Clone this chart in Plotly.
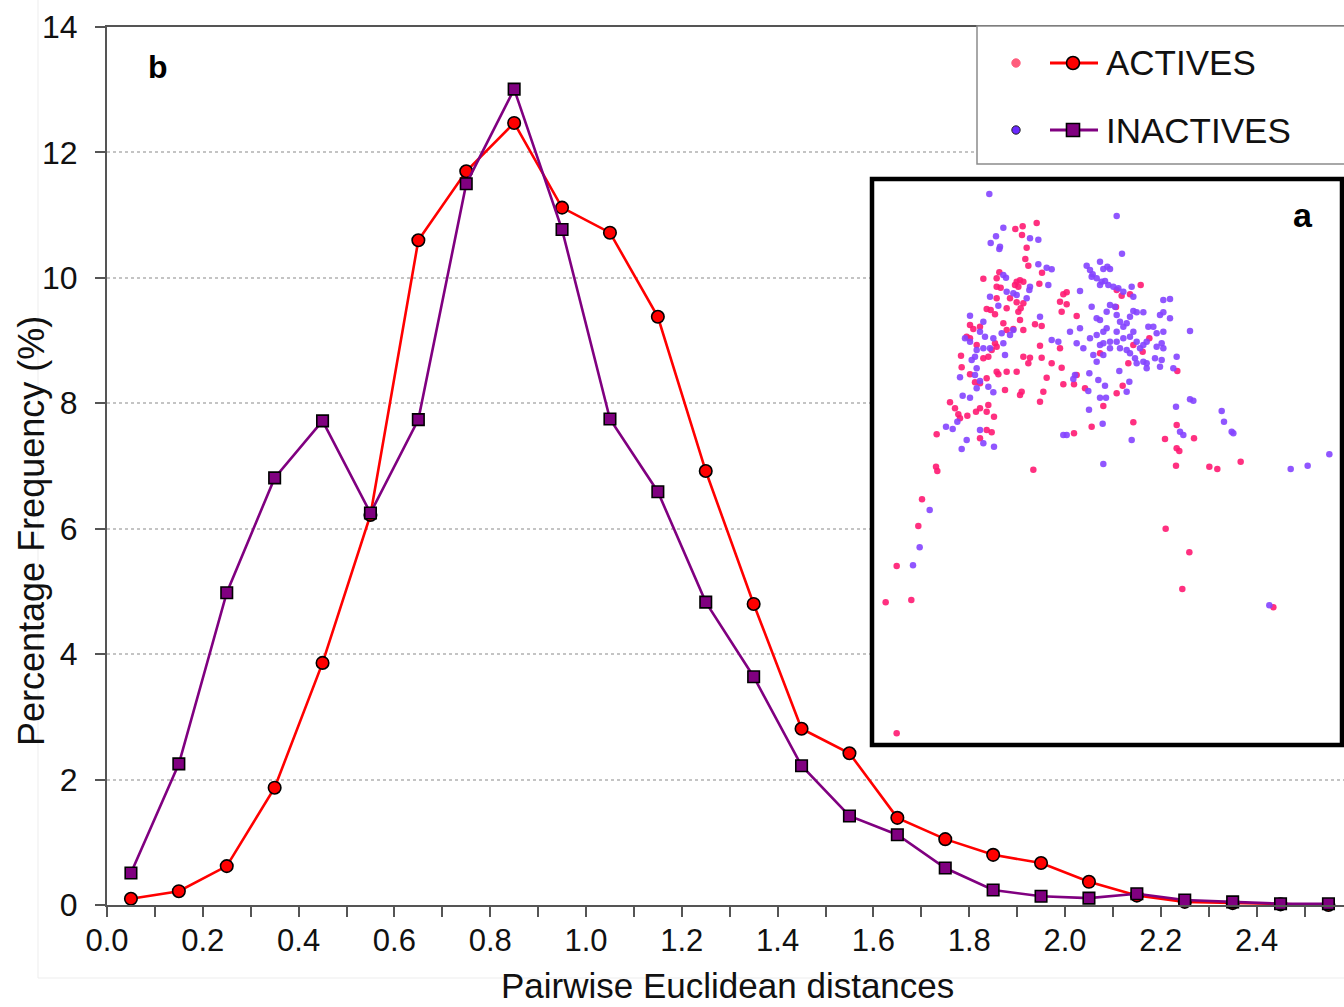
import plotly.graph_objects as go

# ---------------- main panel (b): distance distributions ----------------
distance_bins = [0.05, 0.15, 0.25, 0.35, 0.45, 0.55, 0.65, 0.75, 0.85, 0.95,
                 1.05, 1.15, 1.25, 1.35, 1.45, 1.55, 1.65, 1.75, 1.85, 1.95,
                 2.05, 2.15, 2.25, 2.35, 2.45, 2.55]
actives_pct = [0.10, 0.22, 0.62, 1.87, 3.86, 6.22, 10.60, 11.70, 12.47, 11.12,
               10.72, 9.38, 6.92, 4.80, 2.81, 2.42, 1.39, 1.05, 0.80, 0.67,
               0.37, 0.15, 0.05, 0.03, 0.01, 0.00]
inactives_pct = [0.51, 2.25, 4.98, 6.81, 7.72, 6.25, 7.74, 11.50, 13.01, 10.77,
                 7.75, 6.59, 4.83, 3.64, 2.22, 1.42, 1.12, 0.59, 0.24, 0.14,
                 0.11, 0.18, 0.08, 0.05, 0.02, 0.02]

y_ticks = [0, 2, 4, 6, 8, 10, 12, 14]
x_tick_labels = ["0.0", "0.2", "0.4", "0.6", "0.8", "1.0", "1.2",
                 "1.4", "1.6", "1.8", "2.0", "2.2", "2.4"]
x_tick_vals = [0.0, 0.2, 0.4, 0.6, 0.8, 1.0, 1.2, 1.4, 1.6, 1.8, 2.0, 2.2, 2.4]

# ---------------- inset panel (a): chemical-space projection ----------------
actives_pc1 = [5.00, 4.58, 4.36, 4.56, 4.70, 4.66, 4.75, 5.16, 5.08, 3.40,
               3.88, 3.80, 3.80, 3.92, 4.40, 4.50, 4.60, 4.35, 4.45, 4.20,
               4.40, 4.60, 4.45, 4.52, 3.80, 3.50, 3.62, 3.75, 4.10, 4.00,
               4.10, 4.30, 4.50, 4.60, 4.95, 5.15, 5.70, 5.90, 5.80, 5.90,
               5.75, 6.20, 3.00, 3.10, 3.30, 2.90, 3.00, 3.20, 3.40, 3.55,
               3.75, 3.80, 3.65, 2.73, 2.75, 3.00, 3.15, 3.30, 3.50, 3.80,
               3.85, 4.10, 4.40, 4.60, 4.80, 4.75, 5.10, 5.15, 5.45, 5.70,
               5.75, 5.30, 5.20, 5.10, 4.05, 4.55, 4.50, 2.40, 2.55, 2.65,
               2.70, 2.92, 3.18, 3.30, 3.55, 3.50, 3.72, 5.80, 6.12, 6.20,
               6.45, 7.00, 7.40, 7.55, 7.80, 8.12, 7.38, 7.40, 7.58, 6.90,
               7.90, 8.38, 7.75, 8.18, 9.22, 2.00, 3.30, 3.50, 3.65, 6.12,
               6.65, 7.90, 9.20, 8.85, 9.20, 9.28, 9.72, 1.98, 2.02, 4.90,
               9.18, 10.18, 10.42, 11.12, 1.56, 1.45, 0.80, 0.47, 1.24, 0.80,
               8.87, 9.58, 9.37, 12.10]
actives_pc2 = [15.66, 15.56, 15.48, 15.30, 14.92, 14.58, 14.38, 14.17, 13.84, 13.99,
               14.18, 14.00, 13.75, 13.72, 13.90, 13.94, 13.90, 13.80, 13.75, 13.40,
               13.28, 13.25, 13.00, 13.10, 13.40, 13.08, 13.05, 12.92, 13.10, 12.65,
               12.45, 12.48, 12.75, 12.45, 12.62, 12.57, 13.30, 13.22, 13.52, 13.58,
               13.00, 12.87, 12.60, 12.48, 12.55, 12.25, 12.20, 12.00, 11.60, 11.65,
               12.05, 11.95, 11.85, 11.68, 11.33, 11.12, 10.88, 10.85, 11.00, 11.20,
               11.12, 11.20, 11.20, 11.65, 11.62, 11.45, 11.98, 11.62, 11.45, 11.90,
               11.32, 11.02, 10.60, 10.30, 10.65, 10.60, 10.50, 10.28, 10.10, 9.92,
               9.80, 9.88, 10.00, 10.10, 10.20, 10.00, 9.85, 10.82, 10.82, 11.10,
               10.70, 10.17, 13.65, 13.48, 13.52, 13.80, 13.14, 10.55, 10.78, 11.75,
               12.00, 12.20, 11.45, 11.80, 11.22, 9.32, 9.20, 9.45, 9.38, 9.35,
               9.55, 9.68, 9.60, 9.18, 8.90, 8.82, 9.20, 8.35, 8.22, 8.26,
               8.38, 8.35, 8.28, 8.50, 7.37, 6.57, 5.37, 4.28, 4.35, 0.35,
               6.49, 5.78, 4.68, 4.13]

inactives_pc1 = [3.58, 7.40, 7.56, 4.00, 3.78, 3.62, 3.90, 3.88, 4.80, 5.05,
                 5.05, 5.30, 5.45, 4.00, 4.08, 4.10, 4.30, 4.80, 4.78, 5.35,
                 3.60, 3.85, 4.40, 4.70, 6.30, 6.50, 6.60, 6.68, 6.90, 7.00,
                 7.12, 7.20, 6.65, 6.80, 6.95, 7.05, 7.15, 7.30, 7.45, 6.90,
                 7.60, 7.85, 7.90, 3.00, 3.40, 2.85, 3.00, 3.30, 3.45, 3.70,
                 3.60, 3.40, 3.20, 3.15, 3.05, 4.00, 4.05, 4.20, 4.30, 3.95,
                 2.70, 3.20, 3.15, 3.30, 3.20, 3.55, 3.70, 2.78, 3.00, 5.10,
                 5.45, 5.65, 6.00, 6.30, 6.20, 6.40, 6.65, 6.80, 6.90, 7.10,
                 7.20, 7.35, 7.40, 7.50, 7.60, 7.70, 7.80, 7.90, 8.00, 8.20,
                 6.60, 6.80, 7.00, 7.10, 7.20, 7.40, 7.50, 7.60, 7.80, 7.90,
                 8.00, 8.10, 8.20, 8.30, 7.00, 7.20, 6.90, 6.70, 6.80, 7.00,
                 7.40, 7.70, 7.80, 7.95, 8.00, 8.20, 8.30, 8.35, 8.50, 8.60,
                 8.80, 8.60, 8.75, 8.80, 8.55, 8.75, 8.70, 8.30, 8.80, 9.00,
                 8.70, 8.80, 9.00, 9.60, 9.20, 9.10, 7.48, 7.78, 7.70, 6.15,
                 6.10, 6.58, 6.85, 7.05, 6.55, 6.90, 7.08, 6.57, 6.98, 9.60,
                 9.70, 9.18, 10.55, 10.62, 10.85, 10.90, 9.30, 9.40, 5.80, 5.90,
                 7.85, 2.28, 2.48, 2.62, 2.90, 2.75, 3.30, 3.40, 3.72, 7.00,
                 12.62, 13.13, 13.78, 1.79, 1.49, 1.29, 11.98]
inactives_pc2 = [16.53, 15.87, 14.74, 15.52, 15.26, 15.06, 14.95, 14.88, 15.20, 15.16,
                 14.42, 14.32, 14.27, 14.10, 14.02, 13.60, 13.55, 13.75, 13.65, 13.80,
                 13.45, 13.18, 13.50, 13.40, 13.62, 14.38, 14.25, 14.12, 14.50, 14.28,
                 14.35, 14.28, 14.05, 14.00, 13.90, 13.92, 13.80, 13.75, 13.70, 13.80,
                 13.60, 13.75, 13.45, 12.88, 12.70, 12.20, 12.10, 12.40, 12.25, 12.20,
                 11.90, 11.90, 11.85, 11.65, 11.55, 12.05, 11.70, 12.30, 12.45, 12.35,
                 11.03, 11.30, 11.10, 10.92, 10.70, 10.75, 10.58, 10.48, 10.42, 12.85,
                 12.15, 12.10, 12.40, 12.50, 12.05, 11.90, 13.15, 12.80, 12.75, 13.00,
                 13.20, 13.15, 12.90, 12.70, 12.55, 12.65, 12.85, 13.02, 12.98, 12.98,
                 12.20, 12.30, 12.40, 12.50, 12.10, 12.40, 11.90, 12.20, 12.25, 12.40,
                 12.10, 11.90, 12.00, 12.10, 12.05, 11.90, 12.00, 11.70, 11.50, 11.70,
                 12.10, 11.85, 11.75, 11.60, 11.45, 11.50, 11.45, 12.55, 12.55, 12.35,
                 12.40, 11.95, 12.05, 11.90, 11.60, 11.55, 11.35, 11.30, 13.35, 13.38,
                 12.90, 12.98, 12.80, 12.42, 11.65, 11.30, 11.22, 10.90, 10.60, 11.10,
                 10.98, 11.15, 10.95, 10.78, 10.62, 10.42, 10.42, 10.06, 9.64, 10.37,
                 10.33, 10.15, 10.02, 9.70, 9.40, 9.35, 9.40, 9.30, 9.30, 9.30,
                 9.15, 9.55, 9.48, 9.70, 9.15, 8.88, 9.45, 9.05, 8.95, 8.43,
                 8.28, 8.38, 8.72, 7.05, 5.93, 5.39, 4.19]

# ---------------- layout geometry (pixels) ----------------
W, H = 1344, 1007
ML, MR, MT, MB = 107, 0, 27, 102


def px(x):
    return (x - ML) / (W - ML - MR)


def py(y):
    return (H - MB - y) / (H - MT - MB)


FONT = "Liberation Sans, Arial, sans-serif"
RED = "#ff0000"
PURPLE = "#800080"
PINK_DOT = "#ff1a72"
VIOLET_DOT = "#8444ff"

fig = go.Figure()

fig.add_trace(go.Scatter(
    x=distance_bins, y=actives_pct, mode="lines+markers", name="ACTIVES",
    line=dict(color=RED, width=2.6),
    marker=dict(symbol="circle", size=12.5, color=RED,
                line=dict(color="#000000", width=1.6)),
    cliponaxis=False, showlegend=False,
))
fig.add_trace(go.Scatter(
    x=distance_bins, y=inactives_pct, mode="lines+markers", name="INACTIVES",
    line=dict(color=PURPLE, width=2.6),
    marker=dict(symbol="square", size=11.5, color=PURPLE,
                line=dict(color="#000000", width=1.6)),
    cliponaxis=False, showlegend=False,
))

# inset scatter
fig.add_trace(go.Scatter(
    x=actives_pc1, y=actives_pc2, mode="markers", xaxis="x2", yaxis="y2",
    marker=dict(size=6.5, color=PINK_DOT, opacity=0.9), showlegend=False,
))
fig.add_trace(go.Scatter(
    x=inactives_pc1, y=inactives_pc2, mode="markers", xaxis="x2", yaxis="y2",
    marker=dict(size=6.5, color=VIOLET_DOT, opacity=0.9), showlegend=False,
))

shapes = []
# faint chart-area outline
shapes.append(dict(type="line", xref="paper", yref="paper",
                   x0=px(38), x1=px(38), y0=py(0), y1=py(978),
                   line=dict(color="#ededed", width=1), layer="below"))
shapes.append(dict(type="line", xref="paper", yref="paper",
                   x0=px(38), x1=px(1344), y0=py(978), y1=py(978),
                   line=dict(color="#ededed", width=1), layer="below"))
# white background for the inset (hides main gridlines)
shapes.append(dict(type="rect", xref="x2", yref="y2",
                   x0=0.06, x1=14.16, y0=0, y1=16.98,
                   fillcolor="#ffffff", line=dict(width=0), layer="between"))
# inset frame
shapes.append(dict(type="rect", xref="paper", yref="paper",
                   x0=px(872), x1=px(1342), y0=py(745), y1=py(179),
                   line=dict(color="#000000", width=4.5), layer="above"))
# legend box
shapes.append(dict(type="rect", xref="paper", yref="paper",
                   x0=px(977), x1=px(1360), y0=py(164), y1=py(26),
                   fillcolor="#ffffff", line=dict(color="#8c8c8c", width=1.5),
                   layer="above"))

legend_rows = [
    ("ACTIVES", 63, "#ff5c7c", RED, "circle"),
    ("INACTIVES", 130, "#6a28ff", PURPLE, "square"),
]
annotations = []
for label, yrow, dot_col, col, sym in legend_rows:
    # scatter dot sample
    r = 4.2
    shapes.append(dict(type="circle", xref="paper", yref="paper",
                       x0=px(1016 - r), x1=px(1016 + r),
                       y0=py(yrow + r), y1=py(yrow - r),
                       fillcolor=dot_col,
                       line=dict(color="#222222" if sym == "square" else dot_col,
                                 width=1),
                       layer="above"))
    # line sample
    shapes.append(dict(type="line", xref="paper", yref="paper",
                       x0=px(1050), x1=px(1098), y0=py(yrow), y1=py(yrow),
                       line=dict(color=col, width=3), layer="above"))
    m = 6.5
    shapes.append(dict(type="circle" if sym == "circle" else "rect",
                       xref="paper", yref="paper",
                       x0=px(1073 - m), x1=px(1073 + m),
                       y0=py(yrow + m), y1=py(yrow - m),
                       fillcolor=col, line=dict(color="#000000", width=1.6),
                       layer="above"))
    annotations.append(dict(text=label, xref="paper", yref="paper",
                            x=px(1104), y=py(yrow), xanchor="left",
                            yanchor="middle", showarrow=False,
                            font=dict(family=FONT, size=35, color="#111111")))

annotations += [
    dict(text="<b>b</b>", xref="paper", yref="paper", x=px(158), y=py(67),
         xanchor="center", yanchor="middle", showarrow=False,
         font=dict(family=FONT, size=32, color="#000000")),
    dict(text="<b>a</b>", xref="paper", yref="paper", x=px(1303), y=py(215),
         xanchor="center", yanchor="middle", showarrow=False,
         font=dict(family=FONT, size=34, color="#000000")),
    dict(text="Pairwise Euclidean distances", xref="paper", yref="paper",
         x=px(728), y=py(1006), xanchor="center", yanchor="bottom",
         showarrow=False, borderpad=0,
         font=dict(family=FONT, size=35, color="#111111")),
    dict(text="Percentage Frequency (%)", xref="paper", yref="paper",
         x=px(31), y=py(531), xanchor="center", yanchor="middle",
         textangle=-90, showarrow=False,
         font=dict(family=FONT, size=36, color="#111111")),
]

fig.update_layout(
    width=W, height=H,
    margin=dict(l=ML, r=MR, t=MT, b=MB, pad=0),
    paper_bgcolor="#ffffff", plot_bgcolor="#ffffff",
    font=dict(family=FONT, size=32, color="#111111"),
    shapes=shapes, annotations=annotations,
    xaxis=dict(
        range=[0, (W - ML - MR) / 479.0], tickmode="array",
        tickvals=x_tick_vals, ticktext=x_tick_labels,
        ticks="outside", ticklen=10, tickwidth=1.6, tickcolor="#555555",
        minor=dict(dtick=0.1, tick0=0, ticks="outside", ticklen=10,
                   tickwidth=1.6, tickcolor="#555555", showgrid=False),
        showline=True, linecolor="#555555", linewidth=2, mirror=True,
        showgrid=False, zeroline=False,
        tickfont=dict(family=FONT, size=31, color="#111111"),
        ticklabelstandoff=-3,
    ),
    yaxis=dict(
        range=[0, 14], tickmode="array", tickvals=y_ticks,
        ticks="outside", ticklen=10, tickwidth=1.6, tickcolor="#555555",
        showline=True, linecolor="#555555", linewidth=2,
        showgrid=True, gridcolor="#c4c4c4", gridwidth=1.5, griddash="dot",
        zeroline=False,
        tickfont=dict(family=FONT, size=32, color="#111111"),
        ticklabelstandoff=11,
    ),
    xaxis2=dict(domain=[px(872), px(1342)], range=[0.06, 14.16],
                visible=False, anchor="y2"),
    yaxis2=dict(domain=[py(745), py(179)], range=[0, 16.98],
                visible=False, anchor="x2"),
)

fig.write_html("out.html")
